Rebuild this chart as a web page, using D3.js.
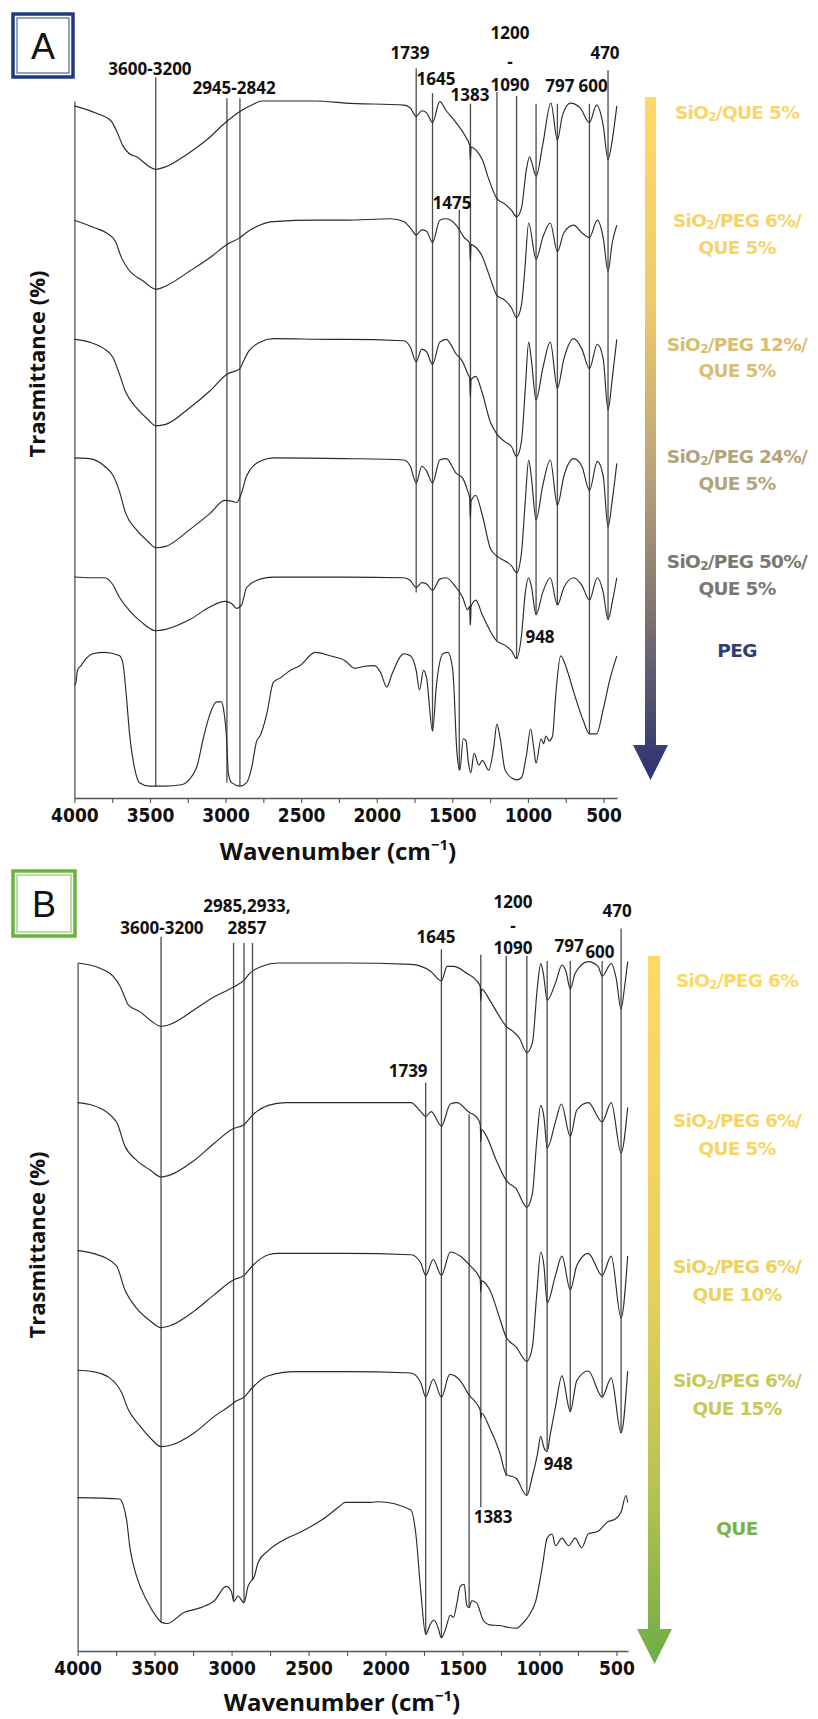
<!DOCTYPE html>
<html><head><meta charset="utf-8">
<script src="https://cdn.jsdelivr.net/npm/d3@7"></script>
<style>
body{margin:0;background:#fff}
svg{display:block;background:#fff}
</style></head><body>
<svg id="chart" width="818" height="1719"></svg>
<script>
// ---------------- DATA ----------------
const xTickValues = [4000,3750,3500,3250,3000,2750,2500,2250,2000,1750,1500,1250,1000,750,500];
const xTickLabels = [4000,3500,3000,2500,2000,1500,1000,500];

// Panel A spectra: [wavenumber, transmittance (a.u., stacked)]
const A_QUE5 = [[4000,99.3],[3850,98.2],[3760,97.2],[3715,95.4],[3680,93.6],[3640,92.5],[3590,92.0],[3462,90.2],[3392,90.6],[3259,92.3],[3126,94.4],[2991,97.1],[2905,98.5],[2820,99.5],[2760,100],[2400,100],[2210,99.7],[1821,99.4],[1778,99.0],[1739,97.8],[1702,98.6],[1670,98.3],[1631,96.9],[1583,99.9],[1540,98.6],[1475,96.9],[1410,94.8],[1385,93.6],[1381,91.5],[1376,93.4],[1345,93.0],[1302,91.6],[1259,88.8],[1205,86.0],[1151,85.2],[1108,84.3],[1075,83.4],[1043,84.6],[1010,90.2],[989,92.0],[971,90.9],[946,89.2],[902,93.7],[848,99.7],[805,94.4],[772,97.9],[718,99.7],[654,99.0],[593,96.9],[546,99.4],[502,96.5],[470,91.6],[442,94.4],[412,99.3]];
const A_PEG6 = [[4000,82.9],[3852,81.7],[3790,81.1],[3730,79.9],[3690,77.6],[3645,75.9],[3547,74.2],[3462,73.0],[3392,73.5],[3237,75.6],[3093,77.7],[2991,79.4],[2905,80.4],[2850,81.3],[2772,82.2],[2684,82.7],[2400,82.9],[2210,82.9],[1908,83.1],[1821,82.7],[1778,81.8],[1739,80.8],[1702,81.5],[1670,81.3],[1631,79.7],[1583,82.9],[1540,83.1],[1475,82.2],[1421,80.4],[1385,79.6],[1381,77.0],[1376,79.4],[1356,79.2],[1302,77.7],[1248,74.5],[1205,72.1],[1151,71.4],[1108,70.3],[1075,68.9],[1043,70.7],[1021,75.6],[995,82.5],[946,77.3],[902,80.4],[852,82.5],[805,78.4],[762,81.1],[697,82.2],[643,81.1],[593,80.4],[541,82.9],[502,80.4],[470,75.6],[442,79.7],[412,82.2]];
const A_PEG12 = [[4000,65.8],[3900,65.4],[3800,64.4],[3745,63.2],[3705,61.0],[3660,58.2],[3590,56.0],[3513,54.3],[3462,53.4],[3396,53.6],[3237,56.0],[3104,58.4],[2991,60.8],[2905,61.6],[2883,62.6],[2850,64.0],[2772,65.4],[2684,65.9],[2300,65.8],[2210,65.8],[1821,65.6],[1778,64.7],[1739,62.6],[1702,64.4],[1670,64.0],[1631,62.2],[1583,65.4],[1540,65.8],[1475,63.7],[1432,62.6],[1399,60.9],[1385,60.2],[1381,57.5],[1376,60.0],[1345,60.5],[1302,58.1],[1248,53.9],[1205,52.2],[1151,51.1],[1108,50.4],[1075,49.0],[1043,51.1],[1017,58.8],[995,65.4],[978,63.0],[946,57.1],[902,61.6],[852,65.4],[805,58.8],[762,63.0],[697,65.9],[643,64.4],[593,61.6],[541,65.1],[502,63.0],[470,55.7],[442,60.2],[412,65.8]];
const A_PEG24 = [[4000,48.8],[3900,48.7],[3800,47.6],[3745,46.3],[3705,44.2],[3660,40.8],[3590,38.5],[3513,36.8],[3462,35.9],[3396,36.1],[3237,38.5],[3104,40.8],[3005,42.7],[2960,42.6],[2927,42.4],[2894,43.8],[2861,46.2],[2772,48.3],[2684,48.8],[2210,48.7],[1821,48.5],[1778,47.6],[1739,45.2],[1702,47.6],[1670,46.9],[1631,45.2],[1583,48.5],[1540,48.7],[1475,46.6],[1432,45.9],[1399,44.1],[1385,43.0],[1381,40.0],[1376,42.6],[1345,43.4],[1302,40.6],[1248,35.8],[1205,34.7],[1151,34.0],[1108,33.3],[1075,32.3],[1043,35.1],[1017,42.7],[995,48.5],[978,46.2],[946,39.9],[902,44.8],[852,48.5],[805,42.0],[762,46.2],[697,48.7],[643,47.6],[593,44.1],[541,48.3],[502,46.2],[470,38.9],[442,42.7],[412,48.0]];
const A_PEG50 = [[4000,31.7],[3900,31.6],[3800,31.6],[3745,30.6],[3705,28.9],[3640,27.0],[3560,25.3],[3462,24.0],[3396,24.2],[3237,25.6],[3104,27.4],[3005,28.2],[2960,27.9],[2927,27.2],[2894,27.7],[2861,30.2],[2772,31.4],[2684,31.7],[2210,31.7],[1821,31.6],[1778,31.2],[1739,30.2],[1702,30.9],[1670,30.7],[1631,29.8],[1583,31.4],[1540,31.6],[1475,30.2],[1432,28.8],[1399,27.0],[1385,27.5],[1381,24.8],[1376,27.5],[1345,28.4],[1302,26.3],[1248,23.9],[1205,22.5],[1151,21.9],[1108,21.1],[1075,20.0],[1043,23.2],[1017,29.5],[995,31.6],[978,30.5],[946,26.3],[902,29.5],[852,31.6],[805,27.7],[762,30.2],[697,31.6],[643,30.5],[593,28.4],[541,31.6],[502,29.5],[470,25.6],[442,28.1],[412,31.6]];
const A_PEG = [[4000,16.2],[3990,16.6],[3980,18.3],[3956,19.0],[3923,20.0],[3878,20.7],[3800,20.9],[3701,20.4],[3679,19.3],[3657,14.8],[3635,9.2],[3602,4.3],[3569,2.2],[3502,1.7],[3400,1.7],[3292,1.9],[3193,4.3],[3148,8.5],[3104,12.0],[3060,13.8],[3027,13.8],[3011,12.4],[2993,8.5],[2982,3.6],[2960,2.2],[2905,1.7],[2861,2.2],[2828,4.3],[2794,8.2],[2772,8.9],[2728,12.0],[2684,16.6],[2640,17.2],[2573,18.3],[2507,19.0],[2407,20.9],[2308,20.4],[2210,19.7],[2145,18.6],[2080,18.9],[2015,19.0],[1972,17.9],[1934,15.9],[1897,17.9],[1821,20.7],[1778,20.4],[1739,18.3],[1717,15.5],[1691,18.3],[1670,17.2],[1631,9.6],[1605,16.2],[1562,20.7],[1529,20.9],[1497,18.3],[1469,6.4],[1450,4.0],[1428,8.5],[1410,8.2],[1393,5.0],[1378,3.6],[1356,6.4],[1324,4.7],[1302,5.4],[1259,4.0],[1227,7.1],[1205,10.6],[1183,8.5],[1151,4.0],[1108,2.9],[1075,2.6],[1043,2.9],[1010,6.1],[982,9.9],[961,7.1],[946,5.0],[913,8.5],[896,7.8],[881,8.9],[859,8.2],[837,8.9],[816,14.8],[783,20.4],[740,18.3],[697,15.2],[632,11.0],[593,9.2],[546,9.2],[502,12.7],[459,16.9],[412,20.4]];

// Panel B spectra
const B_PEG6 = [[4000,100],[3851,99.2],[3770,98.1],[3726,96.7],[3693,95.0],[3671,93.9],[3594,92.9],[3518,91.5],[3458,90.8],[3397,91.1],[3243,93.2],[3112,95.1],[2987,96.5],[2919,97.5],[2882,98.5],[2805,99.5],[2695,100],[2262,100],[1835,99.8],[1707,98.8],[1637,97.4],[1600,99.5],[1558,99.5],[1472,98.5],[1408,97.4],[1385,96.6],[1381,94.5],[1377,96.2],[1323,94.6],[1259,92.2],[1216,90.8],[1174,90.1],[1131,89.1],[1082,87.0],[1046,88.4],[1014,96.4],[992,99.9],[975,98.5],[950,94.6],[896,97.1],[854,99.7],[828,98.8],[800,96.2],[768,98.5],[683,100.2],[619,99.5],[593,98.1],[534,99.9],[502,97.8],[470,93.3],[448,96.4],[427,100.2]];
const B_QUE5 = [[4000,79.7],[3901,79.3],[3748,76.9],[3693,73.4],[3616,71.3],[3529,69.9],[3458,68.9],[3397,69.2],[3243,71.3],[3112,73.8],[2991,75.9],[2919,76.5],[2864,77.9],[2761,79.3],[2650,79.7],[2262,79.7],[1835,79.7],[1771,78.4],[1739,77.7],[1703,78.4],[1637,76.3],[1579,79.5],[1536,79.7],[1457,78.3],[1408,77.6],[1385,76.6],[1381,74.0],[1377,75.8],[1344,74.8],[1280,71.3],[1216,68.4],[1152,67.2],[1082,64.5],[1046,66.5],[1018,74.1],[992,79.3],[971,77.6],[950,73.1],[896,76.9],[858,79.5],[800,74.8],[758,78.6],[683,79.7],[593,76.9],[534,79.7],[470,72.4],[427,79.0]];
const B_QUE10 = [[4000,58.2],[3901,57.8],[3748,56.0],[3693,52.5],[3616,49.8],[3529,48.0],[3458,47.0],[3397,47.3],[3243,49.4],[3112,51.8],[2991,53.9],[2919,54.6],[2864,56.0],[2761,57.6],[2695,57.8],[2262,57.8],[1835,57.6],[1771,56.4],[1739,54.6],[1690,56.9],[1637,54.6],[1579,58.0],[1515,57.4],[1451,56.0],[1395,54.5],[1385,54.0],[1381,52.2],[1377,53.8],[1323,52.5],[1259,48.4],[1216,45.6],[1152,44.2],[1082,42.1],[1046,44.2],[1018,51.8],[992,58.0],[971,56.0],[950,50.6],[896,54.6],[854,57.4],[800,52.5],[758,56.0],[683,57.8],[593,54.6],[534,57.4],[470,48.4],[427,57.4]];
const B_QUE15 = [[4000,40.8],[3901,40.6],[3792,39.7],[3715,37.6],[3671,35.1],[3594,32.7],[3529,31.0],[3458,29.7],[3397,29.9],[3243,31.7],[3112,34.1],[3002,35.8],[2980,36.2],[2919,36.9],[2864,38.3],[2761,40.0],[2586,40.6],[2262,40.6],[1835,40.4],[1771,39.0],[1739,36.9],[1690,39.5],[1637,36.9],[1583,40.2],[1515,39.3],[1457,37.2],[1395,35.5],[1385,35.0],[1381,33.8],[1377,34.6],[1323,32.4],[1259,28.9],[1216,25.7],[1152,25.1],[1082,22.6],[1046,25.4],[1014,28.5],[992,31.2],[970,29.5],[950,29.0],[930,31.5],[896,35.5],[854,40.0],[800,34.8],[758,39.3],[683,40.7],[593,36.9],[534,39.7],[470,31.7],[427,40.7]];
const B_QUE = [[4000,22.3],[3726,22.1],[3704,21.2],[3682,19.1],[3660,15.0],[3616,10.8],[3550,7.3],[3485,4.9],[3458,4.2],[3419,4.0],[3309,5.6],[3200,6.3],[3112,7.3],[3035,9.4],[3002,8.7],[2985,7.2],[2958,8.0],[2919,7.0],[2893,9.4],[2875,10.1],[2853,10.8],[2827,12.9],[2761,14.6],[2673,16.0],[2542,17.4],[2410,19.1],[2300,21.0],[2262,21.6],[2091,21.6],[2048,21.7],[1835,20.5],[1803,17.0],[1771,8.7],[1739,2.4],[1711,3.8],[1686,4.5],[1660,3.5],[1637,1.9],[1611,3.1],[1579,5.2],[1558,4.9],[1536,7.0],[1515,9.4],[1489,9.7],[1472,6.6],[1457,6.3],[1440,7.3],[1408,7.0],[1366,4.5],[1323,3.8],[1259,3.7],[1216,3.5],[1152,3.3],[1110,4.0],[1067,5.2],[1024,7.3],[982,12.2],[950,16.4],[918,17.0],[896,15.3],[854,16.4],[811,15.3],[768,16.4],[726,15.0],[683,17.0],[619,17.4],[555,18.8],[513,19.1],[470,20.2],[438,22.6],[427,21.6]];

// Peak marker lines: [wavenumber, top value, bottom value]
const A_peakLines = [[3462,103.4,1.7],[2991,100.4,2.2],[2905,100.4,1.7],[1739,104.7,29.5],[1631,101.1,9.6],[1454,84.4,4.0],[1380,99.6,24.9],[1205,101.3,22.5],[1075,100.7,20.0],[946,99.6,26.3],[805,99.6,27.7],[593,99.6,9.2],[470,104.4,25.6]];
const B_peakLines = [[3458,103.8,4.2],[2987,102.9,7.2],[2919,102.9,7.0],[2864,102.9,10.3],[1739,82.6,2.4],[1637,102.0,1.9],[1457,78.0,6.3],[1381,101.2,20.9],[1216,101.0,25.4],[1082,101.0,22.6],[950,100.3,29.2],[800,100.3,34.8],[593,100.3,36.9],[470,105.0,31.7]];

// Peak annotations: [text, wavenumber, value]
const A_peakLabels = [["3600-3200",3500,104.7],["2945-2842",2944,101.9],["1739",1780,106.9],["1645",1608,103.2],["1383",1383,101.0],["1200",1119,109.8],["-",1119,105.7],["1090",1119,102.4],["797",788,102.2],["600",569,102.2],["470",490,107.0],["1475",1502,85.5],["948",920,23.2]];
const B_peakLabels = [["3600-3200",3452,105.1],["2985,2933,",2900,108.4],["2857",2900,105.1],["1645",1672,103.8],["1200",1172,108.9],["-",1172,105.5],["1090",1172,102.2],["797",808,102.5],["600",607,101.6],["470",496,107.6],["1739",1853,84.4],["948",878,27.2],["1383",1301,19.5]];

// Legend entries (lines of text, "|" marks the subscript)
const A_legend = [["SiO|2|/QUE 5%"],["SiO|2|/PEG 6%/","QUE 5%"],["SiO|2|/PEG 12%/","QUE 5%"],["SiO|2|/PEG 24%/","QUE 5%"],["SiO|2|/PEG 50%/","QUE 5%"],["PEG"]];
const B_legend = [["SiO|2|/PEG 6%"],["SiO|2|/PEG 6%/","QUE 5%"],["SiO|2|/PEG 6%/","QUE 10%"],["SiO|2|/PEG 6%/","QUE 15%"],["QUE"]];

// ---------------- LAYOUT / STYLE ----------------
const svg = d3.select('#chart');
const defs = svg.append('defs');

function grad(id, stops){
  const g = defs.append('linearGradient').attr('id', id).attr('x1',0).attr('x2',0).attr('y1',0).attr('y2',1);
  stops.forEach(s => g.append('stop').attr('offset', s[0]).attr('stop-color', s[1]));
}
grad('gA', [[0,'#FFD966'],[0.3,'#F0CA6B'],[0.55,'#BBA47A'],[0.75,'#817570'],[1,'#2B3173']]);
grad('gB', [[0,'#FFD966'],[0.45,'#EAD160'],[0.75,'#B7C352'],[1,'#6EAD45']]);

const panels = [
  {
    id:'A', letter:'A', boxColor:'#1F3B80', innerColor:'#4A67A8',
    box:[13,14,60,63],
    xDomain:[4000,410], xRange:[74.4,617.1], yRange:[798,101],
    series:[A_QUE5,A_PEG6,A_PEG12,A_PEG24,A_PEG50,A_PEG],
    lines:A_peakLines, labels:A_peakLabels,
    legend:A_legend,
    legendY:[[112],[220,247],[344,370],[456,483],[561,588],[650]],
    legendColors:['#F9D66B','#F6D36B','#D9BE72','#B5A37B','#7A7870','#2E3D72'],
    legendX:737,
    arrow:{x0:645,x1:656,top:97,headTop:745,tip:780,hx0:633,hx1:668,fill:'url(#gA)'},
    yTitleY:364, xTitleX:338, xTitleY:860
  },
  {
    id:'B', letter:'B', boxColor:'#6AB340', innerColor:'#8DCB6A',
    box:[13,871,62,65],
    xDomain:[4000,425], xRange:[77.6,628], yRange:[1651,963],
    series:[B_PEG6,B_QUE5,B_QUE10,B_QUE15,B_QUE],
    lines:B_peakLines, labels:B_peakLabels,
    legend:B_legend,
    legendY:[[980],[1120,1148],[1266,1294],[1380,1408],[1528]],
    legendColors:['#FAD966','#F7D565','#EDD25F','#C9C95A','#7AB24A'],
    legendX:737,
    arrow:{x0:648,x1:660,top:956,headTop:1629,tip:1664,hx0:637,hx1:672,fill:'url(#gB)'},
    yTitleY:1245, xTitleX:342, xTitleY:1711
  }
];

const annFont = "'Open Sans', 'Noto Sans', sans-serif";
const tickFont = "'Liberation Sans Narrow', 'DejaVu Sans Condensed', 'Liberation Sans', sans-serif";
const legFont = "'DejaVu Sans', 'Noto Sans', sans-serif";

panels.forEach(p => {
  const x = d3.scaleLinear().domain(p.xDomain).range(p.xRange);
  const y = d3.scaleLinear().domain([0,100]).range(p.yRange);
  const g = svg.append('g').attr('class','panel-'+p.id);

  // panel letter box
  const [bx,by,bw,bh] = p.box;
  g.append('rect').attr('x',bx).attr('y',by).attr('width',bw).attr('height',bh)
    .attr('fill','#fff').attr('stroke',p.boxColor).attr('stroke-width',3.5);
  g.append('rect').attr('x',bx+4).attr('y',by+4).attr('width',bw-8).attr('height',bh-8)
    .attr('fill','none').attr('stroke',p.innerColor).attr('stroke-width',1.2);
  g.append('text').attr('x',bx+bw/2).attr('y',by+bh/2+1).attr('text-anchor','middle')
    .attr('dominant-baseline','central').attr('font-family',"'Liberation Sans', Arial, sans-serif")
    .attr('font-size',36).attr('fill','#111').text(p.letter);

  // x axis
  const xAxis = d3.axisBottom(x).tickValues(xTickValues).tickSize(5).tickSizeOuter(0).tickPadding(6)
    .tickFormat(d => xTickLabels.includes(d) ? d : '');
  const ax = g.append('g').attr('transform',`translate(0,${y(0)})`).call(xAxis);
  ax.select('.domain').attr('stroke','#555').attr('stroke-width',1.3);
  ax.selectAll('.tick line').attr('stroke','#555').attr('stroke-width',1.1);
  ax.selectAll('.tick text').attr('font-family',tickFont).attr('font-weight','bold')
    .attr('font-size',19).attr('fill','#111');

  // y axis (no ticks)
  const ay = g.append('g').attr('transform',`translate(${p.xRange[0]},0)`)
    .call(d3.axisLeft(y).tickValues([]).tickSizeOuter(0));
  ay.select('.domain').attr('stroke','#555').attr('stroke-width',1.3);

  // peak marker lines
  g.append('g').selectAll('line').data(p.lines).join('line')
    .attr('x1',d=>x(d[0])).attr('x2',d=>x(d[0]))
    .attr('y1',d=>y(d[1])).attr('y2',d=>y(d[2]))
    .attr('stroke','#4a4a4a').attr('stroke-width',1.3);

  // spectra
  const line = d3.line().x(d=>x(d[0])).y(d=>y(d[1])).curve(d3.curveMonotoneX);
  g.append('g').selectAll('path').data(p.series).join('path')
    .attr('d',line).attr('fill','none').attr('stroke','#2a2a2a').attr('stroke-width',1.15)
    .attr('stroke-linejoin','round');

  // peak labels
  g.append('g').selectAll('text').data(p.labels).join('text')
    .attr('x',d=>x(d[1])).attr('y',d=>y(d[2]))
    .attr('text-anchor','middle').attr('dominant-baseline','central')
    .attr('font-family',annFont).attr('font-weight',700).attr('font-size',17)
    .attr('fill','#111').text(d=>d[0]);

  // legend arrow
  const a = p.arrow;
  g.append('path').attr('d',`M${a.x0},${a.top}H${a.x1}V${a.headTop}H${a.hx1}L${(a.hx0+a.hx1)/2},${a.tip}L${a.hx0},${a.headTop}H${a.x0}Z`)
    .attr('fill',a.fill);

  // legend labels
  p.legend.forEach((lines,i) => {
    lines.forEach((ln,j) => {
      const t = g.append('text').attr('x',p.legendX).attr('y',p.legendY[i][j])
        .attr('text-anchor','middle').attr('dominant-baseline','central')
        .attr('font-family',legFont).attr('font-weight','bold').attr('font-size',18.5)
        .attr('letter-spacing','-0.7px').attr('fill',p.legendColors[i]);
      const parts = ln.split('|');
      if (parts.length === 3) {
        t.append('tspan').text(parts[0]);
        t.append('tspan').attr('font-size',12).attr('dy',5).text(parts[1]);
        t.append('tspan').attr('dy',-5).text(parts[2]);
      } else {
        t.text(ln);
      }
    });
  });

  // axis titles
  g.append('text').attr('transform',`translate(36,${p.yTitleY}) rotate(-90)`)
    .attr('text-anchor','middle').attr('dominant-baseline','central')
    .attr('font-family',annFont).attr('font-weight',700).attr('font-size',22).attr('fill','#111')
    .text('Trasmittance (%)');
  const xt = g.append('text').attr('x',p.xTitleX).attr('y',p.xTitleY).attr('text-anchor','middle')
    .attr('font-family',annFont).attr('font-weight',700).attr('font-size',24).attr('fill','#111');
  xt.append('tspan').text('Wavenumber (cm');
  xt.append('tspan').attr('font-size',15).attr('dy',-10).text('\u22121');
  xt.append('tspan').attr('dy',10).text(')');
});
</script></body></html>
